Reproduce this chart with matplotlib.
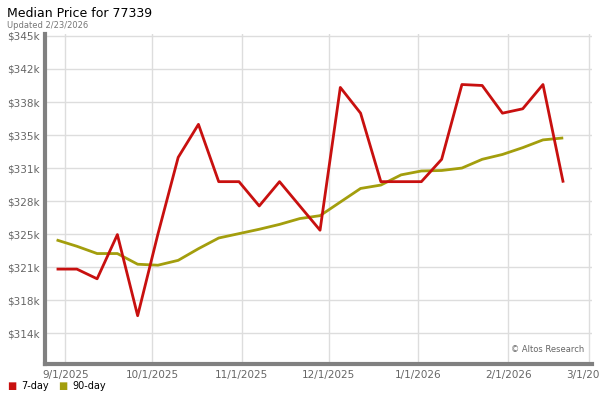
import matplotlib
matplotlib.use("Agg")
import matplotlib.pyplot as plt
import matplotlib.dates as mdates
import numpy as np
import datetime as dt

start = dt.date(2025, 8, 29)
dates = [start + dt.timedelta(days=7 * i) for i in range(26)]

# values in $k
day7 = [321.0, 321.0, 320.0, 324.55, 316.2, 324.6, 332.5, 335.9, 330.0, 330.0,
        327.5, 330.0, 327.5, 325.0, 339.7, 337.05, 330.0, 330.0, 330.0, 332.3,
        340.0, 339.9, 337.05, 337.5, 340.0, 329.9]
day90 = [324.0, 323.35, 322.6, 322.6, 321.5, 321.4, 321.9, 323.1, 324.2, 324.65,
         325.1, 325.6, 326.2, 326.5, 327.9, 329.3, 329.65, 330.7, 331.1, 331.15,
         331.4, 332.3, 332.8, 333.5, 334.3, 334.5]

yticks = [314.4, 317.8, 321.2, 324.6, 328.0, 331.4, 334.8, 338.2, 341.6, 345.0]
xticks = [dt.date(2025, 9, 1), dt.date(2025, 10, 1), dt.date(2025, 11, 1),
          dt.date(2025, 12, 1), dt.date(2026, 1, 1), dt.date(2026, 2, 1),
          dt.date(2026, 3, 1)]
xlabels = ["9/1/2025", "10/1/2025", "11/1/2025", "12/1/2025", "1/1/2026",
           "2/1/2026", "3/1/2026"]

red = "#C8100F"
gold = "#A39E0D"

fig = plt.figure(figsize=(6, 4), dpi=100)
ax = fig.add_axes([0.075, 0.09, 0.912, 0.825])

ax.plot(dates, day90, color=gold, lw=2.0, solid_capstyle="butt", zorder=3)
ax.plot(dates, day7, color=red, lw=2.0, solid_capstyle="butt", zorder=4)

ax.set_ylim(311.23, 345.2)
ax.set_xlim(dt.date(2025, 8, 25), dt.date(2026, 3, 2))
ax.set_yticks(yticks)
ax.set_yticklabels([f"${v:.0f}k" for v in yticks])
ax.set_xticks(xticks)
ax.set_xticklabels(xlabels)
ax.tick_params(length=0, labelsize=7.5, labelcolor="#666666", pad=4)
ax.grid(True, color="#DDDDDD", lw=1)
ax.set_axisbelow(True)

for s in ["top", "right"]:
    ax.spines[s].set_visible(False)
for s in ["left", "bottom"]:
    ax.spines[s].set_color("#808080")
    ax.spines[s].set_linewidth(3)

ax.text(0.985, 0.03, "© Altos Research", transform=ax.transAxes, ha="right",
        va="bottom", fontsize=6, color="#666666")

fig.text(0.012, 0.967, "Median Price for 77339", fontsize=9, color="black",
         va="center", ha="left")
fig.text(0.012, 0.937, "Updated 2/23/2026", fontsize=6, color="#777777",
         va="center", ha="left")

fig.text(0.012, 0.034, "■", color=red, fontsize=7, va="center")
fig.text(0.035, 0.034, "7-day", color="black", fontsize=7, va="center")
fig.text(0.097, 0.034, "■", color=gold, fontsize=7, va="center")
fig.text(0.12, 0.034, "90-day", color="black", fontsize=7, va="center")

fig.savefig("out.png", dpi=100)
